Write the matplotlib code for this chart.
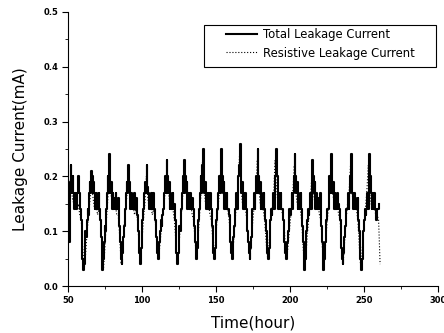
# -*- coding: utf-8 -*-
"""
Total and resistive leakage current versus time.
Values read off the reference figure (total: every 0.5 h, resistive: every 1 h).
"""

import numpy as np
import matplotlib
matplotlib.use('Agg')
import matplotlib.pyplot as plt
from matplotlib.ticker import MultipleLocator
from matplotlib.patches import Rectangle

# total leakage current (mA), one sample per half hour from t = 50 h
total_current = [
    0.10, 0.19, 0.08, 0.17, 0.22, 0.19, 0.17, 0.20, 0.17, 0.14, 0.17, 0.17, 0.14, 0.17, 0.20, 0.17, 0.17, 0.14, 0.12, 0.08, 0.05,
    0.03, 0.04, 0.07, 0.10, 0.09, 0.12, 0.14, 0.13, 0.17, 0.19, 0.17, 0.21, 0.20, 0.17, 0.19, 0.17, 0.14, 0.17, 0.17, 0.14, 0.14, 0.17, 0.14, 0.12, 0.09, 0.06,
    0.03, 0.05, 0.08, 0.11, 0.10, 0.14, 0.17, 0.20, 0.17, 0.24, 0.20, 0.17, 0.19, 0.14, 0.17, 0.14, 0.16, 0.14, 0.17, 0.14, 0.14, 0.16, 0.13, 0.11, 0.08, 0.05,
    0.04, 0.06, 0.09, 0.11, 0.12, 0.14, 0.17, 0.19, 0.17, 0.22, 0.19, 0.17, 0.14, 0.17, 0.14, 0.15, 0.14, 0.17, 0.14, 0.14, 0.16, 0.13, 0.10, 0.08, 0.06,
    0.04, 0.07, 0.10, 0.12, 0.14, 0.14, 0.17, 0.19, 0.17, 0.22, 0.18, 0.17, 0.14, 0.16, 0.14, 0.17, 0.14, 0.14, 0.17, 0.14, 0.12, 0.11, 0.09, 0.06,
    0.05, 0.06, 0.08, 0.10, 0.12, 0.11, 0.13, 0.14, 0.14, 0.17, 0.20, 0.17, 0.23, 0.20, 0.17, 0.19, 0.14, 0.17, 0.14, 0.14, 0.17, 0.14, 0.15, 0.12, 0.09, 0.06,
    0.04, 0.06, 0.09, 0.11, 0.10, 0.13, 0.14, 0.17, 0.20, 0.17, 0.23, 0.20, 0.17, 0.19, 0.14, 0.17, 0.14, 0.14, 0.17, 0.14, 0.16, 0.14, 0.14, 0.11, 0.08, 0.06,
    0.05, 0.07, 0.10, 0.12, 0.14, 0.17, 0.20, 0.17, 0.22, 0.25, 0.21, 0.17, 0.19, 0.14, 0.17, 0.14, 0.17, 0.14, 0.14, 0.17, 0.14, 0.11, 0.09, 0.06,
    0.05, 0.07, 0.10, 0.12, 0.14, 0.14, 0.17, 0.20, 0.17, 0.22, 0.25, 0.20, 0.17, 0.19, 0.14, 0.17, 0.14, 0.17, 0.14, 0.14, 0.13, 0.10, 0.08, 0.06,
    0.05, 0.07, 0.09, 0.11, 0.13, 0.14, 0.17, 0.14, 0.17, 0.20, 0.22, 0.26, 0.21, 0.17, 0.19, 0.14, 0.17, 0.14, 0.17, 0.14, 0.13, 0.10, 0.08, 0.06,
    0.05, 0.07, 0.09, 0.12, 0.14, 0.14, 0.17, 0.14, 0.17, 0.20, 0.17, 0.25, 0.20, 0.17, 0.19, 0.14, 0.17, 0.14, 0.14, 0.17, 0.14, 0.12, 0.10, 0.08, 0.06,
    0.05, 0.07, 0.10, 0.12, 0.14, 0.13, 0.14, 0.17, 0.14, 0.17, 0.20, 0.25, 0.20, 0.17, 0.14, 0.17, 0.14, 0.17, 0.14, 0.14, 0.12, 0.10, 0.08, 0.06,
    0.05, 0.06, 0.08, 0.10, 0.12, 0.14, 0.13, 0.14, 0.17, 0.14, 0.17, 0.20, 0.24, 0.20, 0.17, 0.19, 0.14, 0.17, 0.14, 0.14, 0.17, 0.14, 0.11, 0.08, 0.05,
    0.03, 0.05, 0.08, 0.10, 0.12, 0.14, 0.13, 0.14, 0.17, 0.14, 0.19, 0.23, 0.20, 0.17, 0.19, 0.14, 0.17, 0.14, 0.16, 0.14, 0.14, 0.17, 0.14, 0.11, 0.08, 0.05,
    0.03, 0.05, 0.08, 0.10, 0.12, 0.14, 0.14, 0.17, 0.20, 0.17, 0.24, 0.20, 0.17, 0.19, 0.14, 0.17, 0.14, 0.14, 0.17, 0.14, 0.15, 0.14, 0.12, 0.10, 0.07, 0.05,
    0.04, 0.06, 0.09, 0.11, 0.13, 0.14, 0.14, 0.17, 0.14, 0.17, 0.20, 0.24, 0.20, 0.17, 0.14, 0.17, 0.14, 0.16, 0.14, 0.14, 0.16, 0.12, 0.10, 0.07, 0.05,
    0.03, 0.05, 0.08, 0.10, 0.12, 0.14, 0.13, 0.14, 0.17, 0.14, 0.20, 0.24, 0.20, 0.17, 0.14, 0.17, 0.14, 0.17, 0.16, 0.14, 0.12, 0.13, 0.14, 0.14,
    0.15,
]

# resistive leakage current (mA), one sample per hour from t = 50 h
resistive_current = [
    0.09, 0.18, 0.20, 0.16, 0.15, 0.16, 0.14, 0.15, 0.13, 0.12, 0.07,
    0.03, 0.06, 0.10, 0.13, 0.16, 0.19, 0.16, 0.14, 0.15, 0.13, 0.14, 0.12, 0.08,
    0.03, 0.07, 0.12, 0.16, 0.22, 0.17, 0.15, 0.14, 0.15, 0.13, 0.13, 0.09,
    0.04, 0.07, 0.11, 0.14, 0.17, 0.20, 0.16, 0.14, 0.15, 0.13, 0.14, 0.12, 0.08,
    0.04, 0.08, 0.12, 0.15, 0.20, 0.16, 0.14, 0.15, 0.13, 0.14, 0.12, 0.08,
    0.05, 0.07, 0.10, 0.13, 0.15, 0.18, 0.21, 0.17, 0.15, 0.14, 0.14, 0.12, 0.08,
    0.04, 0.07, 0.11, 0.14, 0.18, 0.21, 0.17, 0.15, 0.14, 0.15, 0.13, 0.12, 0.08,
    0.05, 0.09, 0.13, 0.17, 0.23, 0.18, 0.15, 0.14, 0.15, 0.13, 0.12, 0.08,
    0.05, 0.09, 0.13, 0.16, 0.20, 0.23, 0.17, 0.15, 0.14, 0.14, 0.12, 0.08,
    0.05, 0.08, 0.12, 0.15, 0.18, 0.24, 0.18, 0.15, 0.14, 0.14, 0.12, 0.08,
    0.05, 0.08, 0.12, 0.15, 0.17, 0.23, 0.18, 0.15, 0.14, 0.14, 0.12, 0.08,
    0.05, 0.08, 0.12, 0.14, 0.16, 0.23, 0.18, 0.15, 0.14, 0.15, 0.13, 0.12, 0.07,
    0.05, 0.08, 0.11, 0.14, 0.17, 0.22, 0.17, 0.15, 0.14, 0.14, 0.12, 0.07,
    0.03, 0.06, 0.10, 0.13, 0.16, 0.21, 0.17, 0.15, 0.14, 0.15, 0.13, 0.12, 0.07,
    0.03, 0.07, 0.11, 0.14, 0.18, 0.22, 0.17, 0.15, 0.14, 0.15, 0.13, 0.12, 0.07,
    0.04, 0.08, 0.12, 0.15, 0.17, 0.22, 0.17, 0.15, 0.14, 0.14, 0.12, 0.07,
    0.03, 0.07, 0.11, 0.14, 0.17, 0.22, 0.17, 0.15, 0.14, 0.15, 0.13, 0.13, 0.12,
    0.04,
]

t_start = 50
time_total = t_start + 0.5*np.arange(len(total_current))
time_resistive = t_start + 1.0*np.arange(len(resistive_current))

fig = plt.figure(figsize=(4.44, 3.33), dpi=100)
ax = fig.add_axes([0.153, 0.141, 0.833, 0.823])

ax.plot(time_total, total_current, '-', color='black', linewidth=1.5,
        drawstyle='steps-mid', label='Total Leakage Current')
ax.plot(time_resistive, resistive_current, ':', color='black', linewidth=0.8,
        label='Resistive Leakage Current')

ax.set_xlim(50, 300)
ax.set_ylim(0, 0.5)
ax.xaxis.set_major_locator(MultipleLocator(50))
ax.xaxis.set_minor_locator(MultipleLocator(25))
ax.yaxis.set_major_locator(MultipleLocator(0.1))
ax.yaxis.set_minor_locator(MultipleLocator(0.05))
ax.set_yticklabels(['%.1f' % v for v in ax.get_yticks()])

ax.spines['top'].set_visible(False)
ax.spines['right'].set_visible(False)
ax.tick_params(which='major', direction='out', length=4, width=0.8, labelsize=6, pad=3)
ax.tick_params(which='minor', direction='out', length=2.5, width=0.6)
for lab in ax.get_xticklabels() + ax.get_yticklabels():
    lab.set_fontweight('bold')

ax.set_xlabel('Time(hour)', fontsize=11, labelpad=8)
ax.set_ylabel('Leakage Current(mA)', fontsize=11, labelpad=11)

# legend without its own frame, box drawn separately so it can be wider
leg = ax.legend(loc='upper left', bbox_to_anchor=(0.510, 0.915),
                bbox_transform=fig.transFigure, fontsize=8.4, frameon=False,
                handlelength=2.6, borderpad=0, borderaxespad=0,
                labelspacing=0.45, handletextpad=0.5)
box = Rectangle((0.459, 0.799), 0.523, 0.126, transform=fig.transFigure,
                fill=False, edgecolor='black', linewidth=0.8)
fig.patches.append(box)

fig.savefig('out.png', dpi=100)
